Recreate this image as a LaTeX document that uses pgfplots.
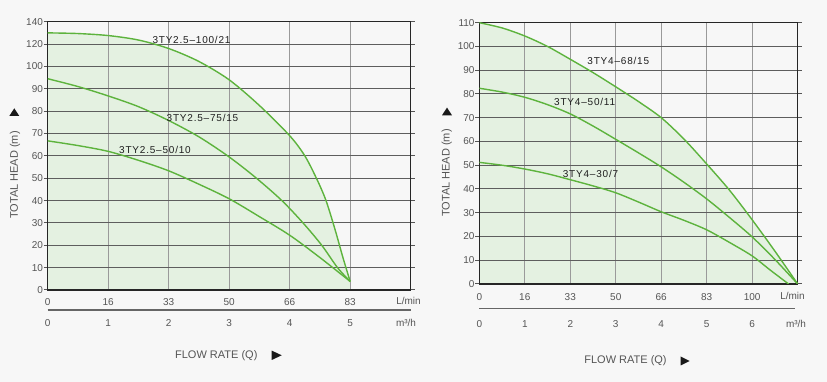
\documentclass[border=0pt]{standalone}
\usepackage{pgfplots}
\usepackage{pgfplotstable}
\pgfplotsset{compat=1.18}
\usepackage{fontspec}
\setmainfont{Liberation Sans}
\definecolor{bg}{HTML}{F7F7F7}
\definecolor{curvec}{HTML}{5DB33D}
\definecolor{fillg}{HTML}{E4F1E1}
\definecolor{hgrid}{HTML}{5E5E5E}
\definecolor{vgrid}{HTML}{9A9A9A}
\definecolor{tickc}{HTML}{555555}
\definecolor{labc}{HTML}{1E1E1E}
\pagecolor{bg}

% ---------- data: x in m3/h, y in m ----------
\pgfplotstableread{
x y
0 130
0.5 129.4
1 127.6
1.5 123.6
2 116
2.5 104.4
3 94
3.5 82.5
4 69
4.25 60
4.45 49.5
4.6 40
4.75 27
4.88 14.5
5 3.8
}\LA
\pgfplotstableread{
x y
0 94.5
0.5 91
1 86.8
1.5 82
2 75.8
2.5 68.5
3 59.5
3.45 50
3.87 40
4.22 30
4.53 20
4.79 10
5 3.8
}\LB
\pgfplotstableread{
x y
0 66.7
0.5 64.6
1 62
1.5 58
2 53.3
2.5 47.3
3 40.8
3.5 32.8
4 24.5
4.5 14.5
5 3.8
}\LC
\pgfplotstableread{
x y
0 110
0.5 107.8
1 104.4
1.5 100
2 94.6
2.5 89
3 83
3.5 76.8
4 70
4.5 61
5 50.5
5.5 39.5
6 27
6.5 13.8
7 0
}\RA
\pgfplotstableread{
x y
0 82.4
0.5 80.8
1 78.6
1.5 75.5
2 71.6
2.5 66.5
3 60.9
3.5 55.2
4 49.3
4.5 42.8
5 35.8
5.5 28
6 19.8
6.5 10.3
7 0
}\RB
\pgfplotstableread{
x y
0 51.2
0.5 50
1 48.4
1.5 46.4
2 43.9
2.5 41.3
3 38.4
3.5 34.5
4 30.4
4.5 26.8
5 22.8
5.5 17.5
6 11.8
6.4 5.8
6.8 0
}\RC

\pgfplotsset{
  pumpaxis/.style={
    scale only axis, set layers, anchor=south west,
    axis background/.style={fill=bg},
    grid=major,
    x grid style={vgrid, line width=1pt},
    y grid style={hgrid, line width=1pt},
    axis line style={draw=black!85, line width=1.3pt},
    xtick style={draw=none},
    ytick style={draw=tickc, line width=1pt},
    tick align=outside, major tick length=4pt,
    ticklabel style={font=\fontsize{10}{12}\selectfont, text=tickc},
    yticklabel style={inner xsep=0.6pt},
    xticklabel style={anchor=center},
    /pgf/number format/assume math mode=true,
  },
  pc/.style={curvec, line width=1.4pt, smooth},
  pf/.style={draw=none, fill=fillg, smooth, on layer=axis background},
}
\begin{document}
\begin{tikzpicture}
\path (0pt,0pt) rectangle (827pt,382pt);

% ---------------- left chart (head axis broken above 100 m: 100-140 m take two grid steps) ----------------
\begin{axis}[pumpaxis, at={(47.7pt,92pt)}, width=363pt, height=268.3pt,
  xmin=0, xmax=6, ymin=0, ymax=120,
  xtick={0,1,2,3,4,5,6}, xticklabels={0,16,33,50,66,83,{}},
  xticklabel style={yshift=-8pt},
  ytick={0,10,20,30,40,50,60,70,80,90,100,110,120},
  yticklabels={0,10,20,30,40,50,60,70,80,90,100,120,140},
]
\addplot[pf] table[y expr={\thisrow{y}<=100 ? \thisrow{y} : 100+(\thisrow{y}-100)/2}] {\LA} \closedcycle;
\addplot[pc] table[y expr={\thisrow{y}<=100 ? \thisrow{y} : 100+(\thisrow{y}-100)/2}] {\LA};
\addplot[pc] table {\LB};
\addplot[pc] table {\LC};
\end{axis}

% ---------------- right chart ----------------
\begin{axis}[pumpaxis, at={(479.3pt,98pt)}, width=318.4pt, height=261.3pt,
  xmin=0, xmax=7, ymin=0, ymax=110,
  xtick={0,1,2,3,4,5,6,7}, xticklabels={0,16,33,50,66,83,100,{}},
  xticklabel style={yshift=-9pt},
  ytick={0,10,...,110},
]
\addplot[pf] table {\RA} \closedcycle;
\addplot[pc] table {\RA};
\addplot[pc] table {\RB};
\addplot[pc] table {\RC};
\end{axis}

\begin{scope}[x=1pt,y=1pt]
% ---------- curve labels ----------
\begin{scope}[every node/.style={font=\fontsize{10}{12}\selectfont\addfontfeatures{LetterSpace=8}, text=labc}]
\node at (191.5,342) {3TY2.5--100/21};
\node at (202.5,263.7) {3TY2.5--75/15};
\node at (155,232) {3TY2.5--50/10};
\node at (618.3,321) {3TY4--68/15};
\node at (584.7,279.7) {3TY4--50/11};
\node at (590.5,208) {3TY4--30/7};
\end{scope}

% ---------- flow-rate unit rows ----------
\begin{scope}[every node/.style={font=\fontsize{10}{12}\selectfont, text=tickc}]
\node at (408.5,81) {L/min};
\draw[tickc!90, line width=1.3pt] (47.7,72) -- (410.7,72);
\foreach \i in {0,...,5} \node at (47.7+60.5*\i,59.3) {\i};
\node at (406,59.3) {m³/h};
\node at (792.5,86) {L/min};
\draw[tickc!90, line width=1.3pt] (479.3,73.7) -- (795,73.7);
\foreach \i in {0,...,6} \node at (479.3+45.49*\i,57.7) {\i};
\node at (796,57.7) {m³/h};
\end{scope}

% ---------- axis titles ----------
\begin{scope}[every node/.style={font=\fontsize{11}{13}\selectfont, text=tickc}]
\node at (216.3,26.7) {FLOW RATE (Q)};
\node at (625.5,21) {FLOW RATE (Q)};
\node[rotate=90] at (15,207) {TOTAL HEAD (m)};
\node[rotate=90] at (446.7,209) {TOTAL HEAD (m)};
\end{scope}
\fill[black!90] (271.7,22) -- (281.7,26.7) -- (271.7,31.4) -- cycle;
\fill[black!90] (680.5,16.5) -- (689.5,21) -- (680.5,25.5) -- cycle;
\fill[black!90] (9.3,266) -- (19.3,266) -- (14.3,273.7) -- cycle;
\fill[black!90] (442,266.7) -- (452,266.7) -- (447,274.4) -- cycle;
\end{scope}
\end{tikzpicture}
\end{document}
